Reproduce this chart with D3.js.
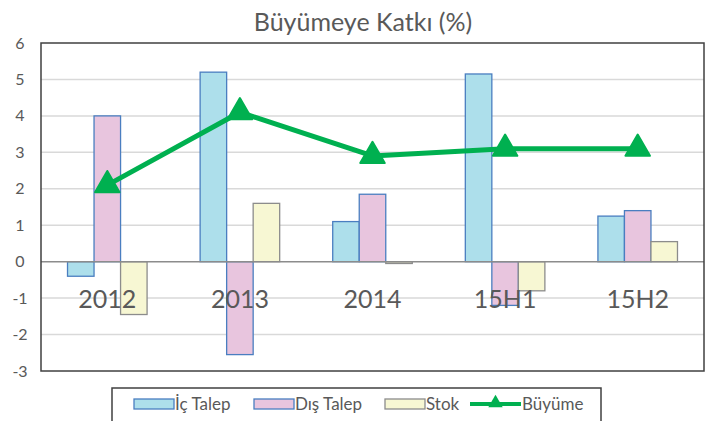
<!DOCTYPE html>
<html><head><meta charset="utf-8">
<script src="https://cdn.jsdelivr.net/npm/d3@7"></script>
<style>body{margin:0;background:#fff;}svg{display:block;}</style>
</head><body><svg id="c" width="713" height="421"></svg>
<script>
const categories = ["2012","2013","2014","15H1","15H2"];
const icTalep = [-0.4, 5.2, 1.1, 5.15, 1.25];
const disTalep = [4.0, -2.55, 1.85, -1.2, 1.4];
const stok = [-1.45, 1.6, -0.05, -0.8, 0.55];
const buyume = [2.1, 4.1, 2.9, 3.1, 3.1];
const yTicks = [-3,-2,-1,0,1,2,3,4,5,6];
const seriesNames = ["İç Talep","Dış Talep","Stok","Büyüme"];
const title = "Büyümeye Katkı (%)";

const svg = d3.select("#c");
const font = "Lato, 'Open Sans', sans-serif";
const txt = "#595959";
const L=41, R=704, T=43, B=371;
const x = d3.scaleBand().domain(categories).range([L,R]).paddingInner(0.4).paddingOuter(0.2);
const y = d3.scaleLinear().domain([-3,6]).range([B,T]);
const bars = [
  {name:seriesNames[0], vals:icTalep, fill:"#ADDFEB", stroke:"#4A7EC0"},
  {name:seriesNames[1], vals:disTalep, fill:"#E8C5DE", stroke:"#4A7EC0"},
  {name:seriesNames[2], vals:stok, fill:"#F7F7D3", stroke:"#8C8C8C"}
];
const xs = d3.scaleBand().domain([0,1,2]).range([0,x.bandwidth()]);

svg.append("text").attr("x",363).attr("y",31).attr("text-anchor","middle")
  .attr("font-family",font).attr("font-size",25).attr("fill",txt).text(title);

// grid
svg.append("g").selectAll("line").data(yTicks.filter(d=>d!==0&&d!==6&&d!==-3)).join("line")
  .attr("x1",L).attr("x2",R).attr("y1",d=>y(d)).attr("y2",d=>y(d))
  .attr("stroke","#D9D9D9").attr("stroke-width",1.5);

// y axis labels
svg.append("g").selectAll("text").data(yTicks).join("text")
  .attr("x",20).attr("y",d=>y(d)).attr("dy","0.35em").attr("text-anchor","middle")
  .attr("font-family",font).attr("font-size",16).attr("fill",txt).text(d=>d);

// bars
bars.forEach((s,i)=>{
  svg.append("g").selectAll("rect").data(s.vals).join("rect")
    .attr("x",(d,j)=>x(categories[j])+xs(i))
    .attr("width",xs.bandwidth())
    .attr("y",d=>y(Math.max(0,d)))
    .attr("height",d=>Math.max(1,Math.abs(y(d)-y(0))))
    .attr("fill",s.fill).attr("stroke",s.stroke).attr("stroke-width",1.3);
});

// zero line
svg.append("line").attr("x1",L).attr("x2",R).attr("y1",y(0)).attr("y2",y(0))
  .attr("stroke","#8C8C8C").attr("stroke-width",1.5);

// category labels (drawn over bars)
svg.append("g").selectAll("text").data(categories).join("text")
  .attr("x",d=>x(d)+x.bandwidth()/2).attr("y",308).attr("text-anchor","middle")
  .attr("font-family",font).attr("font-size",25).attr("fill",txt).text(d=>d);

// line
const cx = c=>x(c)+x.bandwidth()/2;
svg.append("path").datum(buyume)
  .attr("d",d3.line().x((d,j)=>cx(categories[j])).y(d=>y(d)))
  .attr("fill","none").attr("stroke","#00B050").attr("stroke-width",5).attr("stroke-linejoin","round");
const tri = d3.symbol().type(d3.symbolTriangle).size(260);
svg.append("g").selectAll("path").data(buyume).join("path")
  .attr("transform",(d,j)=>`translate(${cx(categories[j])},${y(d)})`)
  .attr("d",tri).attr("fill","#00B050").attr("stroke","#00B050").attr("stroke-width",2).attr("stroke-linejoin","round");

// frame
svg.append("rect").attr("x",L).attr("y",T).attr("width",R-L).attr("height",B-T)
  .attr("fill","none").attr("stroke","#404040").attr("stroke-width",1.5);

// legend
const lg = svg.append("g");
lg.append("rect").attr("x",112).attr("y",388).attr("width",489).attr("height",40)
  .attr("fill","#fff").attr("stroke","#404040").attr("stroke-width",1.5);
const lx = [134,254,385,470];
bars.forEach((s,i)=>{
  lg.append("rect").attr("x",lx[i]).attr("y",399).attr("width",40).attr("height",10)
    .attr("fill",s.fill).attr("stroke",s.stroke).attr("stroke-width",1.3);
  lg.append("text").attr("x",lx[i]+41).attr("y",404).attr("dy","0.35em")
    .attr("font-family",font).attr("font-size",17).attr("fill",txt).text(s.name);
});
lg.append("line").attr("x1",lx[3]).attr("x2",lx[3]+51).attr("y1",404).attr("y2",404)
  .attr("stroke","#00B050").attr("stroke-width",4);
lg.append("path").attr("transform",`translate(${lx[3]+25.5},403)`).attr("d",d3.symbol().type(d3.symbolTriangle).size(90))
  .attr("fill","#00B050");
lg.append("text").attr("x",lx[3]+52).attr("y",404).attr("dy","0.35em")
  .attr("font-family",font).attr("font-size",17).attr("fill",txt).text(seriesNames[3]);
</script></body></html>
